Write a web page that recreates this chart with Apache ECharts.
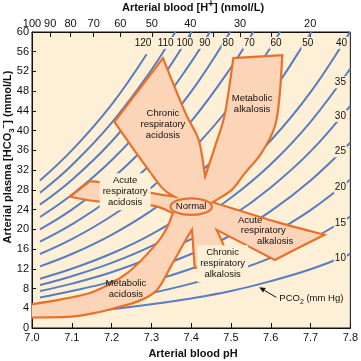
<!DOCTYPE html>
<html><head><meta charset="utf-8">
<script src="https://cdn.jsdelivr.net/npm/echarts@6/dist/echarts.min.js"></script>
<style>html,body{margin:0;padding:0;background:#fff}#c{width:361px;height:361px}</style>
</head><body><div id="c"></div>
<script>
// ---------- data ----------
const hTickValues = [100, 90, 80, 70, 60, 50, 40, 35, 30, 25, 20];
const hLabelValues = [100, 90, 80, 70, 60, 50, 40, 30, 20];

// PCO2 isopleths: [pH, HCO3-]
const curve120 = [[7.02,29.9],[7.1,36.0],[7.2,45.3],[7.288,55.5]];
const curve110 = [[7.02,27.4],[7.1,33.0],[7.2,41.6],[7.3,52.3],[7.36,60]];
const curve100 = [[7.02,25.0],[7.1,30.0],[7.2,37.8],[7.3,47.6],[7.401,60]];
const curve90  = [[7.02,22.5],[7.1,27.0],[7.2,34.0],[7.3,42.8],[7.4,53.9],[7.447,60]];
const curve80  = [[7.02,20.0],[7.1,24.0],[7.2,30.2],[7.3,38.0],[7.4,47.9],[7.498,60]];
const curve70  = [[7.02,17.5],[7.1,21.0],[7.2,26.4],[7.3,33.3],[7.4,41.9],[7.5,52.8],[7.556,60]];
const curve60  = [[7.02,15.0],[7.1,18.0],[7.2,22.7],[7.3,28.5],[7.4,35.9],[7.5,45.2],[7.6,56.9],[7.623,60]];
const curve50  = [[7.02,12.5],[7.1,15.0],[7.2,18.9],[7.3,23.8],[7.4,29.9],[7.5,37.7],[7.6,47.4],[7.7,59.7],[7.702,60]];
const curve40  = [[7.02,10.0],[7.1,12.0],[7.2,15.1],[7.3,19.0],[7.4,23.9],[7.5,30.1],[7.6,38.0],[7.7,47.8],[7.799,60]];
const curve35  = [[7.02,8.7],[7.1,10.5],[7.2,13.2],[7.3,16.6],[7.4,21.0],[7.5,26.4],[7.6,33.2],[7.7,41.8],[7.8,52.6]];
const curve30  = [[7.02,7.5],[7.1,9.0],[7.2,11.3],[7.3,14.3],[7.4,18.0],[7.5,22.6],[7.6,28.5],[7.7,35.8],[7.8,45.1]];
const curve25  = [[7.02,6.2],[7.1,7.5],[7.2,9.4],[7.3,11.9],[7.4,15.0],[7.5,18.8],[7.6,23.7],[7.7,29.9],[7.8,37.6]];
const curve20  = [[7.02,5.0],[7.1,6.0],[7.2,7.6],[7.3,9.5],[7.4,12.0],[7.5,15.1],[7.6,19.0],[7.7,23.9],[7.8,30.1]];
const curve15  = [[7.02,3.7],[7.1,4.5],[7.2,5.7],[7.3,7.1],[7.4,9.0],[7.5,11.3],[7.6,14.2],[7.7,17.9],[7.8,22.6]];
const curve10  = [[7.02,2.5],[7.1,3.0],[7.2,3.8],[7.3,4.8],[7.4,6.0],[7.5,7.5],[7.6,9.5],[7.7,11.9],[7.8,15.0]];
const curves = [curve120,curve110,curve100,curve90,curve80,curve70,curve60,curve50,curve40,curve35,curve30,curve25,curve20,curve15,curve10];

// PCO2 labels [pH, HCO3, text]
const pco2Labels = [
  [7.279,57.8,'120'],[7.336,57.8,'110'],[7.384,57.8,'100'],[7.434,57.8,'90'],[7.493,57.8,'80'],
  [7.546,57.8,'70'],[7.613,57.8,'60'],[7.693,57.8,'50'],[7.778,57.8,'40'],
  [7.775,49.8,'35'],[7.775,43.0,'30'],[7.775,35.8,'25'],[7.775,28.5,'20'],[7.775,21.3,'15'],[7.775,14.1,'10']
];

// outline of the disorder regions, edge by edge (corners shared) [pH, HCO3]
const regionEdges = [
  [[7.095,26.6],[7.145,29.7]],
  [[7.145,29.7],[7.174,29.5],[7.299,27.4],[7.359,26.6]],
  [[7.359,26.6],[7.327,28.4],[7.269,34.7],[7.207,41.8]],
  [[7.207,41.8],[7.329,54.7]],
  [[7.329,54.7],[7.386,43.5],[7.419,38.1],[7.435,30.7]],
  [[7.435,30.7],[7.460,36.8],[7.485,43.5],[7.506,54.7]],
  [[7.506,54.7],[7.629,55.3]],
  [[7.629,55.3],[7.622,46.9],[7.610,40.8],[7.576,35.4],[7.535,31.4],[7.502,28.0],[7.454,25.5]],
  [[7.454,25.5],[7.618,21.4],[7.735,18.9]],
  [[7.735,18.9],[7.610,13.8]],
  [[7.610,13.8],[7.464,19.9]],
  [[7.464,19.9],[7.484,16.2],[7.489,13.0]],
  [[7.489,13.0],[7.409,12.2]],
  [[7.409,12.2],[7.402,19.9]],
  [[7.402,19.9],[7.386,17.8],[7.351,12.8],[7.314,7.7],[7.269,5.5],[7.207,4.0],[7.156,3.0],[7.098,2.3],[6.99,2.1]],
  [[6.99,2.1],[6.99,4.7]],
  [[6.99,4.7],[7.073,5.8],[7.156,7.4],[7.239,11.1],[7.314,17.2],[7.340,20.5],[7.354,23.3]],
  [[7.354,23.3],[7.298,24.9],[7.170,25.6],[7.095,26.6]]
];
const normalCenter = [7.40, 24.6];
const normalHalf = [0.052, 1.68];

// region labels [pH, HCO3, text, boxed]
const regionLabels = [
  [7.329,41.2,'Chronic\nrespiratory\nacidosis',0],
  [7.553,45.4,'Metabolic\nalkalosis',0],
  [7.234,27.6,'Acute\nrespiratory\nacidosis',1],
  [7.236,8.0,'Metabolic\nacidosis',0],
  [7.548,21.9,'Acute',0],
  [7.581,19.7,'respiratory',0],
  [7.611,17.5,'alkalosis',0],
  [7.479,13.0,'Chronic\nrespiratory\nalkalosis',1],
  [7.400,24.6,'Normal',0]
];
const arrowTail = [7.614, 6.2];
const arrowTip = [7.571, 8.25];
const pco2Title = [7.702, 6.0];

// ---------- style ----------
const FONT = 'Liberation Sans, Arial, Helvetica, sans-serif';
const BLUE = '#5a7cc0', ORANGE = '#e8702a', PINK = '#fcd4b8', CREAM = '#fdf0d6';

function smoothSeg(pts) {
  let d = '';
  for (let i = 0; i < pts.length - 1; i++) {
    const p0 = pts[i - 1] || pts[i], p1 = pts[i], p2 = pts[i + 1], p3 = pts[i + 2] || pts[i + 1];
    const c1 = [p1[0] + (p2[0] - p0[0]) / 6, p1[1] + (p2[1] - p0[1]) / 6];
    const c2 = [p2[0] - (p3[0] - p1[0]) / 6, p2[1] - (p3[1] - p1[1]) / 6];
    d += ' C' + c1[0].toFixed(2) + ' ' + c1[1].toFixed(2) + ' ' + c2[0].toFixed(2) + ' ' + c2[1].toFixed(2) + ' ' + p2[0].toFixed(2) + ' ' + p2[1].toFixed(2);
  }
  return d;
}

const series = curves.map(c => ({
  type: 'line', data: c, showSymbol: false, smooth: 0.4, clip: true, silent: true, z: 2,
  lineStyle: { color: BLUE, width: 2 }
}));

series.push({
  type: 'custom', coordinateSystem: 'cartesian2d', data: [0], clip: true, z: 3, silent: true,
  renderItem: (params, api) => {
    let d = '';
    regionEdges.forEach((edge, k) => {
      const px = edge.map(p => api.coord(p));
      if (k === 0) d += 'M' + px[0][0].toFixed(2) + ' ' + px[0][1].toFixed(2);
      d += smoothSeg(px);
    });
    d += ' Z';
    const c = api.coord(normalCenter);
    const e = api.coord([normalCenter[0] + normalHalf[0], normalCenter[1] + normalHalf[1]]);
    const rx = e[0] - c[0], ry = c[1] - e[1];
    const ed = 'M' + (c[0] - rx) + ' ' + c[1] + ' A' + rx + ' ' + ry + ' 0 1 0 ' + (c[0] + rx) + ' ' + c[1] +
      ' A' + rx + ' ' + ry + ' 0 1 0 ' + (c[0] - rx) + ' ' + c[1] + ' Z';
    return { type: 'group', children: [
      { type: 'path', shape: { pathData: d }, style: { fill: PINK, stroke: ORANGE, lineWidth: 2.2, lineJoin: 'miter' } },
      { type: 'path', shape: { pathData: ed }, style: { fill: PINK, stroke: ORANGE, lineWidth: 2.2 } }
    ] };
  }
});

series.push({
  type: 'custom', coordinateSystem: 'cartesian2d', data: regionLabels, z: 5, silent: true,
  renderItem: (params, api) => {
    const item = regionLabels[params.dataIndex];
    const p = api.coord([item[0], item[1]]);
    return { type: 'text', x: p[0], y: p[1], style: {
      text: item[2], fill: '#111', fontSize: 9.5, fontFamily: FONT, lineHeight: 11,
      align: 'center', verticalAlign: 'middle',
      backgroundColor: item[3] ? CREAM : null, padding: item[3] ? [2, 3] : 0 } };
  }
});

series.push({
  type: 'custom', coordinateSystem: 'cartesian2d', data: pco2Labels, z: 6, silent: true,
  renderItem: (params, api) => {
    const item = pco2Labels[params.dataIndex];
    const p = api.coord([item[0], item[1]]);
    return { type: 'text', x: p[0], y: p[1], style: {
      text: item[2], fill: '#111', fontSize: 10, fontFamily: FONT,
      align: 'center', verticalAlign: 'middle', backgroundColor: CREAM, padding: [1, 1] } };
  }
});

series.push({
  type: 'custom', coordinateSystem: 'cartesian2d', data: [0], z: 6, silent: true,
  renderItem: (params, api) => {
    const a = api.coord(arrowTail), b = api.coord(arrowTip), t = api.coord(pco2Title);
    const ang = Math.atan2(b[1] - a[1], b[0] - a[0]);
    const L = 6, W = 2.6;
    const bx = b[0] - L * Math.cos(ang), by = b[1] - L * Math.sin(ang);
    const nx = -Math.sin(ang) * W, ny = Math.cos(ang) * W;
    return { type: 'group', children: [
      { type: 'line', shape: { x1: a[0], y1: a[1], x2: bx, y2: by }, style: { stroke: '#111', lineWidth: 1 } },
      { type: 'polygon', shape: { points: [[b[0], b[1]], [bx + nx, by + ny], [bx - nx, by - ny]] }, style: { fill: '#111' } },
      { type: 'text', x: t[0], y: t[1], style: {
        text: 'PCO{s|2} (mm Hg)', fill: '#111', fontSize: 9.5, fontFamily: FONT, align: 'center', verticalAlign: 'middle',
        rich: { s: { fontSize: 7, fontFamily: FONT, verticalAlign: 'bottom', lineHeight: 14, fill: '#111' } } } }
    ] };
  }
});

const axisFont = { fontSize: 11, color: '#111', fontFamily: FONT };
const option = {
  animation: false,
  grid: { left: 32, right: 8, top: 32, bottom: 33, show: true, backgroundColor: CREAM, borderColor: '#111', borderWidth: 1 },
  xAxis: [
    { type: 'value', min: 7, max: 7.8, interval: 0.1, position: 'bottom',
      axisLine: { show: true, lineStyle: { color: '#111', width: 1 } },
      axisTick: { show: true, inside: true, length: 5, lineStyle: { color: '#111' } },
      axisLabel: Object.assign({ margin: 4, formatter: v => v.toFixed(1) }, axisFont),
      splitLine: { show: false } },
    { type: 'value', min: 7, max: 7.8, position: 'top',
      axisLine: { show: true, lineStyle: { color: '#111', width: 1 } },
      axisTick: { show: true, inside: true, length: 5, lineStyle: { color: '#111' },
        customValues: hTickValues.map(h => 9 - Math.log10(h)) },
      axisLabel: Object.assign({ margin: 3, customValues: hLabelValues.map(h => 9 - Math.log10(h)),
        formatter: v => String(Math.round(Math.pow(10, 9 - v))) }, axisFont),
      splitLine: { show: false } }
  ],
  yAxis: { type: 'value', min: 0, max: 60, interval: 4,
    axisLine: { show: true, lineStyle: { color: '#111', width: 1 } },
    axisTick: { show: true, inside: true, length: 4, lineStyle: { color: '#111' } },
    axisLabel: Object.assign({ margin: 3 }, axisFont),
    splitLine: { show: false } },
  graphic: [
    { type: 'text', x: 193, y: 8, z: 10, style: { text: 'Arterial blood [H{p|+}] (nmol/L)', align: 'center', verticalAlign: 'middle',
      fontSize: 11, fontWeight: 'bold', fontFamily: FONT, fill: '#111',
      rich: { p: { fontSize: 10, fontWeight: 'bold', fontFamily: FONT, verticalAlign: 'top', lineHeight: 17, fill: '#111' } } } },
    { type: 'text', x: 193, y: 354, z: 10, style: { text: 'Arterial blood pH', align: 'center', verticalAlign: 'middle',
      fontSize: 11, fontWeight: 'bold', fontFamily: FONT, fill: '#111' } },
    { type: 'text', x: 8, y: 157, rotation: Math.PI / 2, z: 10, style: {
      text: 'Arterial plasma [HCO{b|3}{p|−}] (mmol/L)', align: 'center', verticalAlign: 'middle',
      fontSize: 11, fontWeight: 'bold', fontFamily: FONT, fill: '#111',
      rich: { b: { fontSize: 8, fontWeight: 'bold', fontFamily: FONT, verticalAlign: 'bottom', lineHeight: 16, fill: '#111' },
              p: { fontSize: 8, fontWeight: 'bold', fontFamily: FONT, verticalAlign: 'top', lineHeight: 16, fill: '#111' } } } }
  ],
  series
};
const chart = echarts.init(document.getElementById('c'), null, { renderer: 'canvas' });
chart.setOption(option);
</script></body></html>
